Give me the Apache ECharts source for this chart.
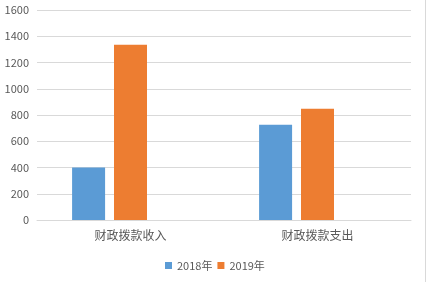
<!DOCTYPE html>
<html>
<head>
<meta charset="utf-8">
<script src="https://cdn.jsdelivr.net/npm/echarts@6/dist/echarts.min.js"></script>
<style>html,body{margin:0;padding:0;background:#fff;}#c{width:428px;height:282px;}</style>
</head>
<body>
<div id="c"></div>
<script>
var categories = ['财政拨款收入', '财政拨款支出'];
var values2018 = [400, 725];
var values2019 = [1335, 848];
var yTicks = [0, 200, 400, 600, 800, 1000, 1200, 1400, 1600];

var font = '"Microsoft YaHei", "Noto Sans CJK SC", sans-serif';
var chart = echarts.init(document.getElementById('c'), null, {renderer: 'canvas'});
chart.setOption({
  animation: false,
  backgroundColor: '#fff',
  textStyle: {fontFamily: font},
  grid: {left: 37, right: 17, top: 10, bottom: 62},
  legend: {
    data: ['2018年', '2019年'],
    left: 160, top: 255,
    icon: 'rect', itemWidth: 7, itemHeight: 7, itemGap: 5,
    textStyle: {color: '#595959', fontSize: 11, fontFamily: font}
  },
  xAxis: {
    type: 'category',
    data: categories,
    axisLine: {lineStyle: {color: '#d9d9d9'}},
    axisTick: {show: false},
    axisLabel: {color: '#595959', fontSize: 12, margin: 9, fontFamily: font}
  },
  yAxis: {
    type: 'value',
    min: yTicks[0], max: yTicks[yTicks.length - 1], interval: 200,
    axisLine: {show: false},
    axisTick: {show: false},
    axisLabel: {color: '#595959', fontSize: 11, margin: 8, fontFamily: font,
      formatter: function (v) { return String(v); }},
    splitLine: {lineStyle: {color: '#d9d9d9'}}
  },
  series: [
    {name: '2018年', type: 'bar', data: values2018, barWidth: 33, barGap: '27%', itemStyle: {color: '#5B9BD5'}},
    {name: '2019年', type: 'bar', data: values2019, barWidth: 33, barGap: '27%', itemStyle: {color: '#ED7D31'}},
    {name: '', type: 'bar', data: ['-', '-'], barWidth: 33, barGap: '27%', itemStyle: {color: '#A5A5A5'}}
  ],
  graphic: [{
    type: 'line', shape: {x1: 425.5, y1: 0, x2: 425.5, y2: 282},
    style: {stroke: '#d9d9d9', lineWidth: 1}
  }]
});
</script>
</body>
</html>
